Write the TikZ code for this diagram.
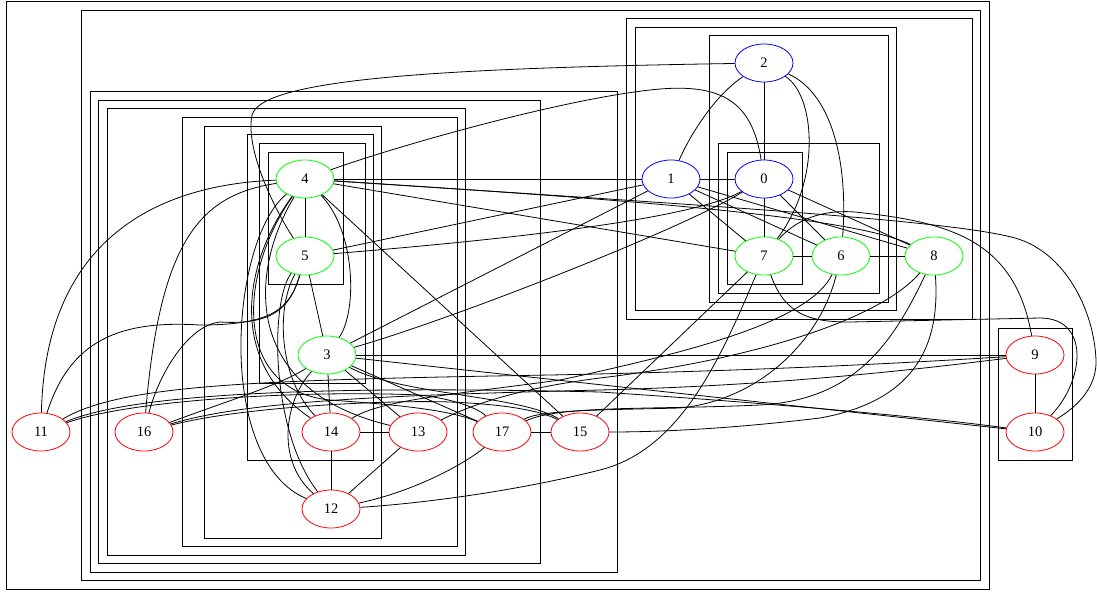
\documentclass[tikz,border=0pt]{standalone}
\usepackage{fontspec}
\setmainfont{Liberation Serif}
\usetikzlibrary{shapes.geometric}

\definecolor{gvgreen}{RGB}{0,255,0}

\begin{document}
\begin{tikzpicture}[x=1pt,y=-1pt,line width=0.8pt,
    gv/.style={ellipse,draw,minimum width=58pt,minimum height=38pt,
      inner sep=0pt,font=\fontsize{14.5}{16}\selectfont},
    bl/.style={gv,draw=blue},
    gr/.style={gv,draw=gvgreen},
    rd/.style={gv,draw=red}]
  \useasboundingbox (0,0) rectangle (1097,592);

  % clusters
  \draw (6,1) rectangle (989,589);
  \draw (81,10) rectangle (980,580);
  \draw (90,91) rectangle (617,572);
  \draw (98,100) rectangle (540,563);
  \draw (107,108) rectangle (465,555);
  \draw (182,117) rectangle (457,546);
  \draw (204,126) rectangle (381,538);
  \draw (247,134) rectangle (373,460);
  \draw (259,143) rectangle (365,383);
  \draw (268,152) rectangle (343,284);
  \draw (626,18) rectangle (972,319);
  \draw (635,27) rectangle (896,310);
  \draw (709,35) rectangle (888,302);
  \draw (718,143) rectangle (879,293);
  \draw (727,152) rectangle (802,284);
  \draw (998,328) rectangle (1072,460);

  % nodes
  \node (n2) [bl] at (764,63) {2};
  \node (n1) [bl] at (671,179) {1};
  \node (n0) [bl] at (764,179) {0};
  \node (n7) [gr] at (764,256) {7};
  \node (n6) [gr] at (841,256) {6};
  \node (n8) [gr] at (934,256) {8};
  \node (n4) [gr] at (305,179) {4};
  \node (n5) [gr] at (305,256) {5};
  \node (n3) [gr] at (327,355) {3};
  \node (n9) [rd] at (1035,355) {9};
  \node (n10) [rd] at (1035,432) {10};
  \node (n11) [rd] at (41,432) {11};
  \node (n16) [rd] at (144,432) {16};
  \node (n14) [rd] at (331,432) {14};
  \node (n13) [rd] at (418,432) {13};
  \node (n17) [rd] at (502,432) {17};
  \node (n15) [rd] at (580,432) {15};
  \node (n12) [rd] at (331,509) {12};

  % edges
  \draw (n2) -- (n0);
  \draw (n2) .. controls (715,95) and (690,135) .. (n1);
  \draw (n2) .. controls (815,95) and (822,180) .. (n7);
  \draw (n2) .. controls (835,95) and (848,170) .. (n6);
  \draw (n2) .. controls (450,68) and (262,78) .. (252,115)
    .. controls (245,150) and (275,210) .. (n5);
  \draw (n0) -- (n1);
  \draw (n0) -- (n7);
  \draw (n0) -- (n6);
  \draw (n0) -- (n8);
  \draw (n0) .. controls (752,100) and (720,82) .. (650,90)
    .. controls (560,100) and (400,145) .. (n4);
  \draw (n0) .. controls (690,220) and (500,240) .. (n5);
  \draw (n0) .. controls (680,230) and (450,320) .. (n3);
  \draw (n1) -- (n4);
  \draw (n1) -- (n5);
  \draw (n1) -- (n3);
  \draw (n1) -- (n7);
  \draw (n1) -- (n6);
  \draw (n1) -- (n8);
  \draw (n7) -- (n6);
  \draw (n6) -- (n8);
  \draw (n9) -- (n10);
  \draw (n4) -- (n5);
  \draw (n4) -- (n7);
  \draw (n4) -- (n15);
  \draw (n4) .. controls (600,198) and (850,215) .. (n8);
  \draw (n4) .. controls (700,205) and (950,220) .. (1015,238)
    .. controls (1065,252) and (1094,310) .. (1096,360)
    .. controls (1097,385) and (1080,405) .. (n10);
  \draw (n4) .. controls (150,185) and (45,245) .. (n11);
  \draw (n4) .. controls (200,195) and (160,240) .. (n16);
  \draw (n4) .. controls (355,230) and (358,310) .. (n3);
  \draw (n4) .. controls (245,260) and (225,360) .. (n14);
  \draw (n4) .. controls (250,270) and (240,390) .. (n13);
  \draw (n4) .. controls (240,270) and (230,390) .. (330,400)
    .. controls (400,405) and (450,410) .. (n17);
  \draw (n4) .. controls (230,240) and (215,460) .. (n12);
  \draw (n5) -- (n3);
  \draw (n5) .. controls (270,300) and (270,430) .. (n12);
  \draw (n5) .. controls (275,310) and (280,380) .. (n14);
  \draw (n5) .. controls (290,310) and (270,325) .. (200,325)
    .. controls (120,320) and (70,340) .. (n11);
  \draw (n5) .. controls (290,310) and (270,325) .. (220,322)
    .. controls (190,325) and (160,370) .. (n16);
  \draw (n3) -- (n9);
  \draw (n3) -- (n10);
  \draw (n3) -- (n14);
  \draw (n3) -- (n13);
  \draw (n3) -- (n17);
  \draw (n3) .. controls (400,395) and (520,395) .. (n15);
  \draw (n3) .. controls (285,400) and (275,460) .. (n12);
  \draw (n16) .. controls (230,400) and (280,385) .. (n3);
  \draw (n7) .. controls (800,215) and (830,210) .. (855,212)
    .. controls (950,222) and (1015,240) .. (n9);
  \draw (n7) .. controls (785,315) and (810,322) .. (850,322)
    -- (1040,318) .. controls (1090,318) and (1085,380) .. (n10);
  \draw (n7) -- (n15);
  \draw (n7) .. controls (720,360) and (680,450) .. (600,470)
    .. controls (500,495) and (400,505) .. (n12);
  \draw (n6) .. controls (810,320) and (700,350) .. (560,380)
    .. controls (450,395) and (380,400) .. (n14);
  \draw (n6) .. controls (820,340) and (760,400) .. (680,408)
    .. controls (600,410) and (540,410) .. (n17);
  \draw (n8) .. controls (880,320) and (750,360) .. (600,378)
    .. controls (520,388) and (470,405) .. (n13);
  \draw (n8) .. controls (890,350) and (850,400) .. (760,405)
    .. controls (650,410) and (560,405) .. (n17);
  \draw (n8) .. controls (940,340) and (920,400) .. (820,418)
    .. controls (720,430) and (650,432) .. (n15);
  \draw (n14) -- (n13);
  \draw (n14) -- (n12);
  \draw (n13) -- (n12);
  \draw (n17) -- (n15);
  \draw (n12) .. controls (420,490) and (470,460) .. (n17);
  \draw (n11) .. controls (120,385) and (250,380) .. (550,375)
    .. controls (800,370) and (950,360) .. (n9);
  \draw (n11) .. controls (130,395) and (300,385) .. (600,392)
    .. controls (800,405) and (950,420) .. (n10);
  \draw (n11) .. controls (130,400) and (300,390) .. (420,395)
    .. controls (460,400) and (480,410) .. (n17);
  \draw (n16) .. controls (250,400) and (400,395) .. (600,390)
    .. controls (800,385) and (950,365) .. (n9);
  \draw (n16) .. controls (250,405) and (400,400) .. (450,402)
    .. controls (500,404) and (540,410) .. (n15);
\end{tikzpicture}
\end{document}
